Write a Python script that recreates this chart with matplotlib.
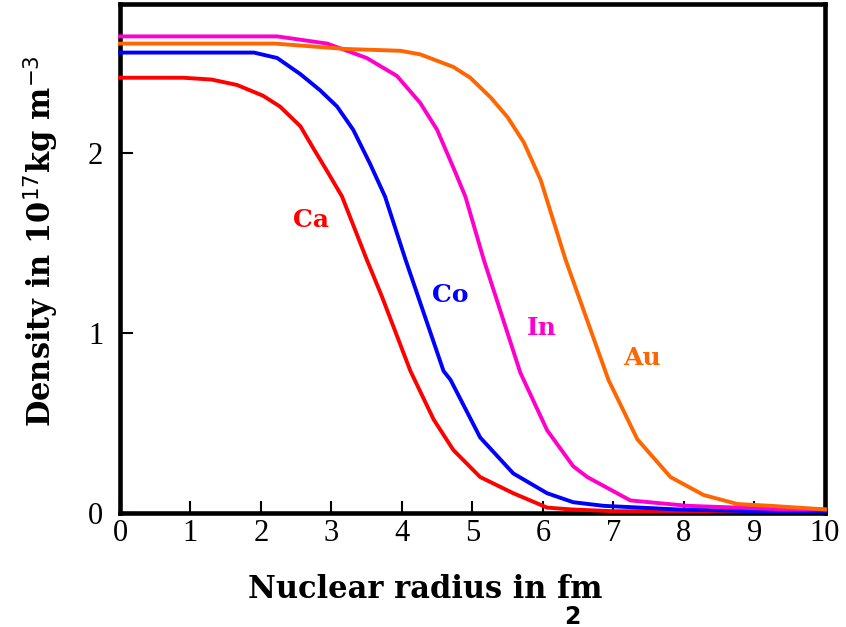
import numpy as np
import matplotlib
matplotlib.use('Agg')
import matplotlib.pyplot as plt

# values (radius in fm, density in 1e17 kg/m^3)
ca_x = [0, 0.9, 1.3, 1.66, 2.03, 2.27, 2.56, 2.74, 2.94, 3.15, 3.5, 3.72, 4.12, 4.45, 4.73, 5.11, 5.58, 6.06, 6.4, 7, 8, 9, 10]
ca_y = [2.42, 2.42, 2.41, 2.38, 2.32, 2.26, 2.15, 2.03, 1.90, 1.76, 1.41, 1.20, 0.79, 0.52, 0.35, 0.20, 0.11, 0.03, 0.02, 0.01, 0.01, 0.01, 0.01]

co_x = [0, 1.9, 2.23, 2.56, 2.84, 3.08, 3.31, 3.55, 3.76, 4.05, 4.59, 4.69, 5.11, 5.58, 6.06, 6.43, 6.86, 7.9, 9, 10]
co_y = [2.56, 2.56, 2.53, 2.44, 2.35, 2.26, 2.13, 1.94, 1.76, 1.41, 0.79, 0.74, 0.42, 0.22, 0.11, 0.06, 0.04, 0.02, 0.01, 0.01]

in_x = [0, 2.23, 2.94, 3.5, 3.93, 4.26, 4.5, 4.73, 4.9, 5.16, 5.68, 6.06, 6.43, 6.63, 7.24, 8.05, 9.47, 10]
in_y = [2.65, 2.65, 2.61, 2.53, 2.43, 2.28, 2.13, 1.92, 1.76, 1.41, 0.78, 0.46, 0.26, 0.20, 0.07, 0.04, 0.02, 0.02]

au_x = [0, 2.2, 3.2, 3.98, 4.26, 4.73, 4.97, 5.26, 5.5, 5.73, 5.97, 6.32, 6.93, 7.34, 7.81, 8.28, 8.76, 9.23, 10]
au_y = [2.61, 2.61, 2.58, 2.57, 2.55, 2.48, 2.42, 2.31, 2.20, 2.06, 1.85, 1.41, 0.74, 0.41, 0.20, 0.10, 0.05, 0.04, 0.02]

names = ['Ca', 'Co', 'In', 'Au']
colors = ['#ff0000', '#0000ff', '#ff00cc', '#ff6600']
label_pos = [(2.71, 1.63), (4.69, 1.21), (5.99, 1.03), (7.4, 0.86)]

fig = plt.figure(figsize=(8.46, 6.27), dpi=100)
ax = fig.add_axes([0.1418, 0.1818, 0.8332, 0.8118])

series = [(ca_x, ca_y), (co_x, co_y), (in_x, in_y), (au_x, au_y)]
for (xs, ys), c in zip(series, colors):
    ax.plot(xs, ys, color=c, lw=2.8, clip_on=False, zorder=3)

for n, c, (lx, ly) in zip(names, colors, label_pos):
    ax.text(lx, ly, n, color=c, fontsize=18, fontweight='bold',
            family='DejaVu Serif', ha='center', va='center')

ax.set_xlim(0, 10)
ax.set_ylim(0, 2.83)
ax.set_xticks(range(0, 11))
ax.set_yticks([0, 1, 2])
ax.tick_params(direction='in', length=9, width=1.5, labelsize=22)
ax.tick_params(axis='x', pad=4)
ax.tick_params(axis='y', pad=12)
for lab in ax.get_xticklabels() + ax.get_yticklabels():
    lab.set_family('Liberation Serif')
for s in ax.spines.values():
    s.set_linewidth(3.3)

ax.set_xlabel('Nuclear radius in fm', fontsize=22, fontweight='bold',
              family='DejaVu Serif')
ax.xaxis.set_label_coords(0.433, -0.12)
ax.set_ylabel(r'Density in 10$^{17}$kg m$^{-3}$', fontsize=22, fontweight='bold',
              family='DejaVu Serif')
ax.yaxis.set_label_coords(-0.083, 0.534)

# stray character at the bottom edge of the original image
fig.text(0.676, 0.004, '2', fontsize=17, fontweight='bold', ha='center', va='baseline')

fig.savefig('out.png', dpi=100)
